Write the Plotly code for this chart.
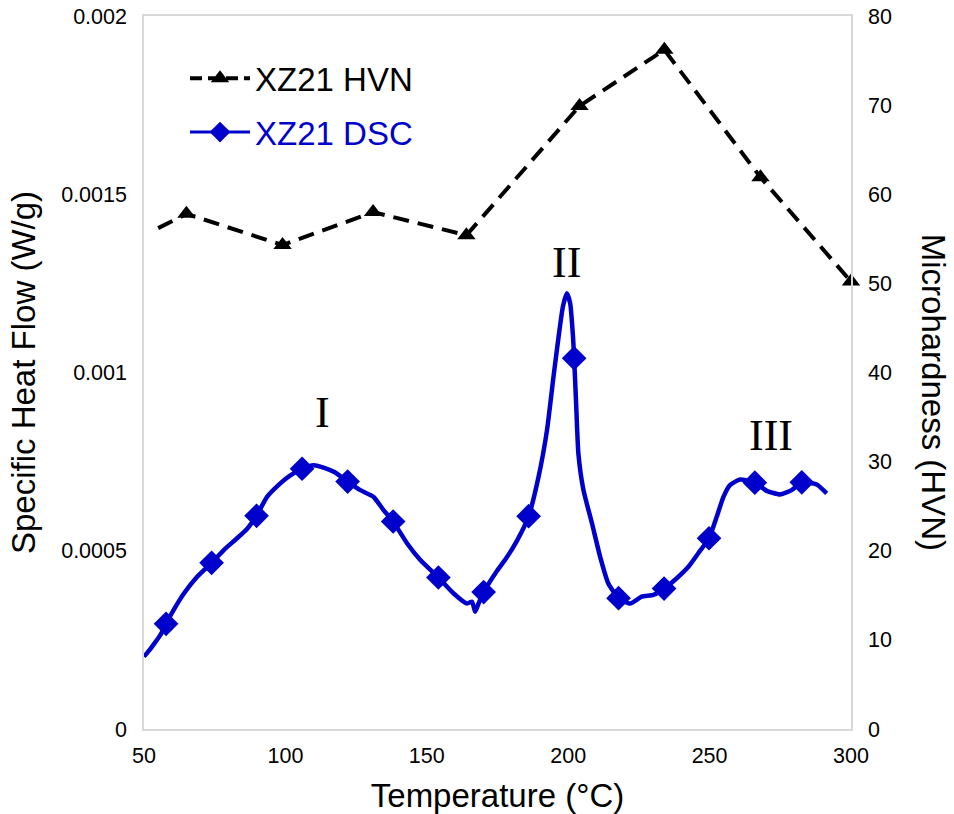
import plotly.graph_objects as go

# DSC trace: temperature (°C) and specific heat flow (W/g)
dsc_temp = [50.0, 52.0, 53.5, 55.8, 57.8, 60.5, 64.1, 68.8, 73.9, 78.2, 82.9, 86.5,
            89.8, 93.5, 98.2, 101.5, 105.9, 110.0, 114.0, 117.5, 122.0, 126.5, 131.2,
            134.7, 138.1, 143.0, 147.7, 154.1, 159.5, 164.2, 166.0, 167.1, 168.3, 170.1,
            174.5, 178.0, 182.0, 186.0, 189.5, 192.5, 194.8, 196.6, 198.1, 199.5, 200.7,
            201.7, 202.1, 202.8, 203.6, 205.4, 208.4, 211.3, 214.2, 217.8, 221.9, 226.0,
            230.1, 233.9, 238.4, 242.5, 246.0, 249.8, 252.5, 254.9, 257.2, 260.8, 266.0,
            270.2, 274.9, 279.0, 282.6, 287.9, 291.4]
dsc_flow = [0.000203, 0.000222, 0.000238, 0.000264, 0.000295, 0.000334, 0.000380, 0.000427,
            0.000466, 0.000502, 0.000535, 0.000562, 0.000598, 0.000651, 0.000689, 0.000710,
            0.000730, 0.000740, 0.000732, 0.000720, 0.000694, 0.000670, 0.000651, 0.000614,
            0.000582, 0.000521, 0.000474, 0.000425, 0.000380, 0.000352, 0.000357, 0.000329,
            0.000352, 0.000384, 0.000440, 0.000478, 0.000530, 0.000597, 0.000707, 0.000838,
            0.000988, 0.001100, 0.001184, 0.001222, 0.001194, 0.001100, 0.001040, 0.000913,
            0.000773, 0.000670, 0.000577, 0.000483, 0.000408, 0.000367, 0.000352, 0.000371,
            0.000376, 0.000394, 0.000423, 0.000455, 0.000493, 0.000535, 0.000595, 0.000651,
            0.000684, 0.000700, 0.000691, 0.000668, 0.000658, 0.000670, 0.000692, 0.000686,
            0.000661]

# Marker positions along the DSC trace
dsc_mark_temp = [57.8, 73.9, 89.8, 105.9, 122.0, 138.1, 154.1, 170.1, 186.0, 202.1,
                 217.8, 233.9, 249.8, 266.0, 282.6]
dsc_mark_flow = [0.000295, 0.000466, 0.000598, 0.000730, 0.000694, 0.000582, 0.000425,
                 0.000384, 0.000597, 0.001040, 0.000367, 0.000394, 0.000535, 0.000691,
                 0.000692]

# Microhardness (HVN) vs temperature
hvn_temp = [55, 65, 99, 131, 164, 204, 234, 268, 300]
hvn_value = [56.2, 57.8, 54.3, 58.0, 55.4, 69.9, 76.2, 61.9, 50.2]

x_ticks = [50, 100, 150, 200, 250, 300]
y_ticks = [0, 0.0005, 0.001, 0.0015, 0.002]
y_tick_text = ["0", "0.0005", "0.001", "0.0015", "0.002"]
y2_ticks = [0, 10, 20, 30, 40, 50, 60, 70, 80]

peak_labels = ["I", "II", "III"]
peak_temp = [113.1, 199.4, 271.8]
peak_flow = [0.000889, 0.001309, 0.000824]

BLUE = "#0000CC"
AXIS_GRAY = "#D9D9D9"
SANS = "Liberation Sans, Arial, sans-serif"

fig = go.Figure()

# DSC curve
fig.add_trace(go.Scatter(
    x=dsc_temp, y=dsc_flow, mode="lines",
    line=dict(color=BLUE, width=4.5, shape="spline", smoothing=0.5),
    showlegend=False, hoverinfo="skip",
))
fig.add_trace(go.Scatter(
    x=dsc_mark_temp, y=dsc_mark_flow, mode="markers",
    marker=dict(symbol="diamond", size=19, color=BLUE, line=dict(width=0)),
    showlegend=False, cliponaxis=False,
))

# HVN dashed line on the secondary axis
fig.add_trace(go.Scatter(
    x=hvn_temp, y=hvn_value, mode="lines", yaxis="y2",
    line=dict(color="black", width=4, dash="16px,9px"),
    showlegend=False, cliponaxis=False, hoverinfo="skip",
))
# HVN triangles (the first reading is drawn without a marker)
fig.add_trace(go.Scatter(
    x=hvn_temp[1:], y=hvn_value[1:], mode="markers", yaxis="y2",
    marker=dict(symbol="triangle-up", size=16, color="black",
                line=dict(width=0, color="black")),
    showlegend=False, cliponaxis=False,
))

# Legend entries
fig.add_trace(go.Scatter(
    x=[None], y=[None], mode="lines+markers", yaxis="y2",
    name="XZ21 HVN", legendgroup="a",
    line=dict(color="black", width=4, dash="12px,6px"),
    marker=dict(symbol="triangle-up", size=16, color="black", line=dict(width=0)),
))
fig.add_trace(go.Scatter(
    x=[None], y=[None], mode="lines+markers",
    name="<span style='color:#0000CC'>XZ21 DSC</span>", legendgroup="b",
    line=dict(color=BLUE, width=3),
    marker=dict(symbol="diamond", size=19, color=BLUE, line=dict(width=0)),
))

for lab, tx, ty in zip(peak_labels, peak_temp, peak_flow):
    fig.add_annotation(
        x=tx, y=ty, text=lab, showarrow=False,
        font=dict(family="Liberation Serif, Times New Roman, serif", size=44, color="black"),
    )

# Right-hand axis title reads top to bottom
fig.add_annotation(
    xref="paper", yref="paper", x=1.145, y=0.473, text="Microhardness (HVN)",
    textangle=90, showarrow=False, font=dict(family=SANS, size=33, color="black"),
)

fig.update_layout(
    width=954, height=814,
    margin=dict(l=143.5, r=103, t=16, b=85, autoexpand=False),
    paper_bgcolor="white", plot_bgcolor="white",
    font=dict(family=SANS, color="black"),
    xaxis=dict(
        range=[50, 300], tickvals=x_ticks, showgrid=False, zeroline=False,
        showline=True, linecolor=AXIS_GRAY, linewidth=1.5, mirror=True,
        ticks="", ticklabelstandoff=6, tickfont=dict(size=21.5), automargin=False,
        title=dict(text="Temperature (°C)", font=dict(size=33), standoff=17),
    ),
    yaxis=dict(
        range=[0, 0.002], tickvals=y_ticks, ticktext=y_tick_text, showgrid=False,
        zeroline=False, showline=True, linecolor=AXIS_GRAY, linewidth=1.5, mirror=True,
        ticks="", ticklabelstandoff=11, tickfont=dict(size=21.5), automargin=False,
        title=dict(text="Specific Heat Flow (W/g)", font=dict(size=33), standoff=16),
    ),
    yaxis2=dict(
        range=[0, 80], tickvals=y2_ticks, overlaying="y", side="right",
        showgrid=False, zeroline=False, showline=False, automargin=False,
        ticks="", ticklabelstandoff=16, tickfont=dict(size=21.5),
    ),
    legend=dict(
        x=0.058, y=0.952, xanchor="left", yanchor="top",
        font=dict(size=33, color="black"), bgcolor="rgba(0,0,0,0)",
        traceorder="grouped", tracegroupgap=8, itemwidth=60,
    ),
)

fig.write_html("out.html")
